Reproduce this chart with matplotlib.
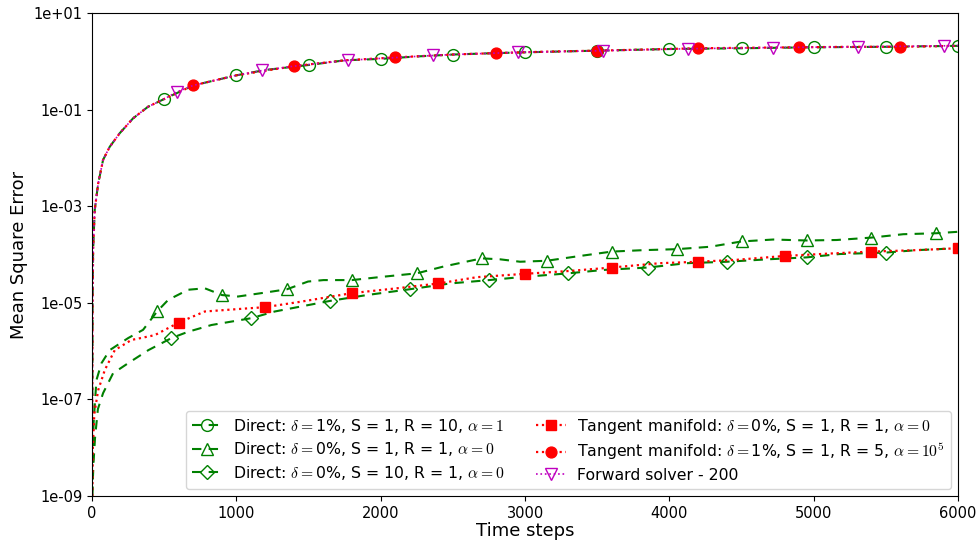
import numpy as np
import matplotlib
matplotlib.use("Agg")
import matplotlib.pyplot as plt
from matplotlib.ticker import FixedLocator, FuncFormatter, NullLocator

plt.rcParams['font.family'] = ['DejaVu Sans']
plt.rcParams['mathtext.fontset'] = 'cm'

# ---------------- data (log10 of MSE) ----------------
# Direct: delta=1%, S=1, R=10, alpha=1  (circles every 500 steps)
t_dir1 = [0, 3, 7, 18, 42, 76, 122, 191, 284, 388, 500, 700, 1000, 1200, 1500,
          1750, 2000, 2250, 2500, 2750, 3000, 3500, 4000, 4500, 5000, 5500, 6000]
log_dir1 = [-9.0, -5.0, -3.9, -3.08, -2.53, -2.04, -1.77, -1.49, -1.18, -0.94, -0.78,
            -0.50, -0.29, -0.18, -0.077, 0.02, 0.05, 0.10, 0.14, 0.165, 0.186, 0.22,
            0.254, 0.27, 0.29, 0.30, 0.32]
mark_dir1 = [500, 1000, 1500, 2000, 2500, 3000, 3500, 4000, 4500, 5000, 5500, 6000]

# Direct: delta=0%, S=1, R=1, alpha=0  (triangles every 450 steps)
t_dir2 = [0, 10, 30, 65, 122, 250, 353, 450, 527, 665, 781, 900, 1011, 1196, 1350,
          1496, 1603, 1800, 2018, 2250, 2434, 2700, 2827, 2965, 3150, 3358, 3600,
          3820, 4050, 4282, 4500, 4720, 4950, 5159, 5400, 5621, 5850, 6000]
log_dir2 = [-9.0, -7.5, -6.6, -6.25, -5.98, -5.73, -5.56, -5.18, -4.94, -4.73, -4.70,
            -4.84, -4.87, -4.79, -4.72, -4.56, -4.53, -4.53, -4.46, -4.39, -4.25,
            -4.08, -4.10, -4.15, -4.13, -4.04, -3.94, -3.91, -3.89, -3.84, -3.73,
            -3.69, -3.71, -3.70, -3.65, -3.58, -3.56, -3.53]
mark_dir2 = [450, 900, 1350, 1800, 2250, 2700, 3150, 3600, 4050, 4500, 4950, 5400, 5850]

# Direct: delta=0%, S=10, R=1, alpha=0  (diamonds every 550 steps)
t_dir3 = [0, 10, 20, 40, 76, 145, 250, 390, 550, 665, 827, 1100, 1266, 1441, 1650,
          1903, 2200, 2480, 2750, 2965, 3300, 3543, 3850, 4120, 4400, 4680, 4950,
          5182, 5500, 5714, 6000]
log_dir3 = [-9.0, -8.3, -7.8, -7.2, -6.87, -6.46, -6.25, -5.98, -5.73, -5.60, -5.46,
            -5.32, -5.18, -5.08, -4.96, -4.84, -4.72, -4.60, -4.53, -4.47, -4.39,
            -4.32, -4.27, -4.18, -4.15, -4.10, -4.06, -3.99, -3.96, -3.91, -3.87]
mark_dir3 = [550, 1100, 1650, 2200, 2750, 3300, 3850, 4400, 4950, 5500]

# Tangent manifold: delta=0%, S=1, R=1, alpha=0  (squares every 600 steps)
t_tan0 = [0, 5, 15, 42, 88, 157, 272, 434, 600, 781, 1011, 1200, 1441, 1800, 2111,
          2400, 2665, 3000, 3312, 3600, 3935, 4200, 4466, 4800, 5113, 5400, 5714, 6000]
log_tan0 = [-9.0, -8.0, -7.3, -6.81, -6.39, -5.98, -5.77, -5.67, -5.41, -5.18, -5.13,
            -5.09, -4.98, -4.80, -4.70, -4.60, -4.47, -4.40, -4.34, -4.27, -4.18,
            -4.15, -4.11, -4.03, -3.98, -3.94, -3.91, -3.87]
mark_tan0 = [600, 1200, 1800, 2400, 3000, 3600, 4200, 4800, 5400, 6000]

# Tangent manifold: delta=1%, S=1, R=5, alpha=1e5  (filled circles every 700 steps)
t_tan1 = [0, 3, 7, 18, 42, 76, 122, 191, 284, 388, 500, 700, 1000, 1400, 1750, 2100,
          2500, 2800, 3150, 3500, 3850, 4200, 4550, 4900, 5250, 5600, 6000]
log_tan1 = [-9.0, -5.0, -3.9, -3.08, -2.53, -2.04, -1.77, -1.49, -1.18, -0.94, -0.78,
            -0.50, -0.29, -0.10, 0.02, 0.08, 0.14, 0.17, 0.20, 0.22, 0.245, 0.27,
            0.28, 0.29, 0.30, 0.30, 0.32]
mark_tan1 = [700, 1400, 2100, 2800, 3500, 4200, 4900, 5600]

# Forward solver - 200  (triangles down every 590 steps)
t_fwd = [0, 3, 7, 18, 42, 76, 122, 191, 284, 388, 500, 590, 700, 1000, 1180, 1400,
         1770, 2000, 2360, 2500, 2950, 3540, 4130, 4720, 5310, 5900, 6000]
log_fwd = [-9.0, -5.0, -3.9, -3.08, -2.53, -2.04, -1.77, -1.49, -1.18, -0.94, -0.78,
           -0.63, -0.50, -0.29, -0.19, -0.10, 0.02, 0.06, 0.12, 0.14, 0.185, 0.22,
           0.26, 0.285, 0.30, 0.32, 0.325]
mark_fwd = [590, 1180, 1770, 2360, 2950, 3540, 4130, 4720, 5310, 5900]

labels = [
    r'Direct: $\delta=$1%, S = 1, R = 10, $\alpha=1$',
    r'Direct: $\delta=$0%, S = 1, R = 1, $\alpha=0$',
    r'Direct: $\delta=$0%, S = 10, R = 1, $\alpha=0$',
    r'Tangent manifold: $\delta=$0%, S = 1, R = 1, $\alpha=0$',
    r'Tangent manifold: $\delta=$1%, S = 1, R = 5, $\alpha=10^5$',
    'Forward solver - 200',
]
y_ticks = [1e-9, 1e-7, 1e-5, 1e-3, 1e-1, 1e1]
x_ticks = [0, 1000, 2000, 3000, 4000, 5000, 6000]

# ---------------- plot ----------------
fig = plt.figure(figsize=(9.8, 5.46), dpi=100)
ax = fig.add_axes([0.094, 0.0916, 0.8836, 0.8846])

def idx(t, marks):
    t = np.asarray(t)
    return [int(np.where(t == m)[0][0]) for m in marks]

green = 'green'
dash = (4.5, 3.5)

ax.plot(t_dir1, 10 ** np.array(log_dir1), color=green, ls='--', dashes=dash, lw=1.5,
        marker='o', ms=8.5, mfc='none', mec=green, mew=1.0,
        markevery=idx(t_dir1, mark_dir1), label=labels[0])
ax.plot(t_dir2, 10 ** np.array(log_dir2), color=green, ls='--', dashes=dash, lw=1.5,
        marker='^', ms=8.5, mfc='none', mec=green, mew=1.0,
        markevery=idx(t_dir2, mark_dir2), label=labels[1])
ax.plot(t_dir3, 10 ** np.array(log_dir3), color=green, ls='--', dashes=dash, lw=1.5,
        marker='D', ms=7.5, mfc='none', mec=green, mew=1.0,
        markevery=idx(t_dir3, mark_dir3), label=labels[2])
ax.plot(t_tan0, 10 ** np.array(log_tan0), color='red', ls=':', lw=1.6,
        marker='s', ms=7.2, markevery=idx(t_tan0, mark_tan0), label=labels[3])
ax.plot(t_tan1, 10 ** np.array(log_tan1), color='red', ls=':', lw=1.6,
        marker='o', ms=7.8, markevery=idx(t_tan1, mark_tan1), label=labels[4])
ax.plot(t_fwd, 10 ** np.array(log_fwd), color='m', ls=':', lw=1.2,
        marker='v', ms=8.5, mfc='none', mec='m', mew=1.0,
        markevery=idx(t_fwd, mark_fwd), label=labels[5])

ax.set_yscale('log')
ax.set_xlim(0, 6000)
ax.set_ylim(1e-9, 1e1)
ax.yaxis.set_major_locator(FixedLocator(y_ticks))
ax.yaxis.set_minor_locator(NullLocator())
ax.yaxis.set_major_formatter(FuncFormatter(lambda v, p: '%.0e' % v))
ax.set_xticks(x_ticks)
ax.tick_params(labelsize=10.5)
ax.set_xlabel('Time steps', fontsize=13, labelpad=1)
ax.set_ylabel('Mean Square Error', fontsize=13)

ax.legend(loc='lower right', ncol=2, fontsize=11.3, borderaxespad=0.45,
          handlelength=1.9, handletextpad=0.7, labelspacing=0.35, columnspacing=2.0)

fig.savefig('out.png', dpi=100)
